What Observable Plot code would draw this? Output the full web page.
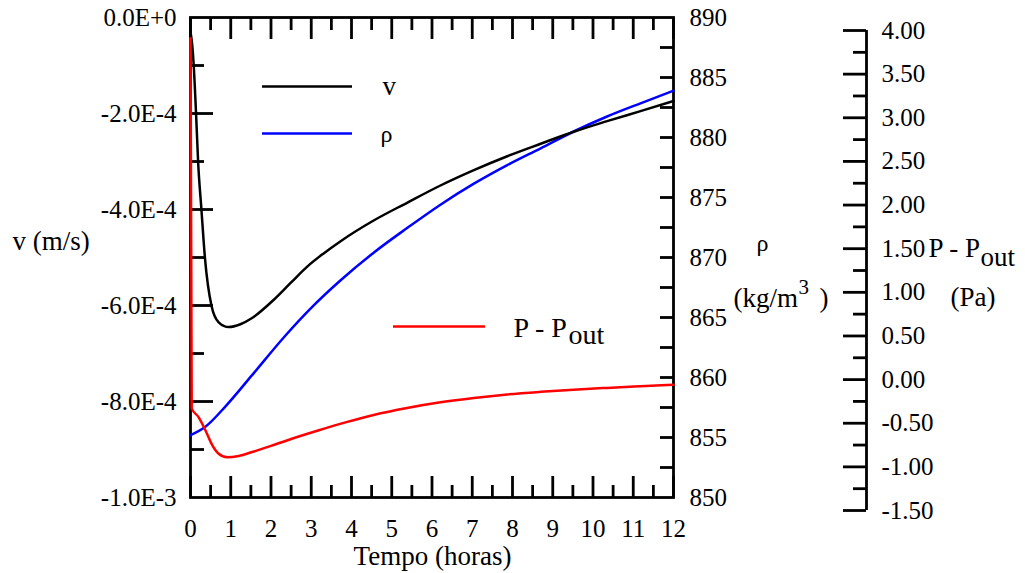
<!DOCTYPE html>
<html><head><meta charset="utf-8">
<script src="https://cdn.jsdelivr.net/npm/d3@7"></script>
<script src="https://cdn.jsdelivr.net/npm/@observablehq/plot@0.6"></script>
<style>body{margin:0;background:#fff} #chart svg{display:block}</style>
</head><body><div id="chart"></div>
<script>
// ---- data ----
// velocity v (units of 1e-4 m/s) vs time (hours)
const tV   = [0, 0.04, 0.08, 0.14, 0.19, 0.27, 0.36, 0.52, 0.70, 0.95, 1.24, 1.53, 2.07, 2.50, 2.90, 3.30, 3.73, 4.55, 5.38, 6.21, 7.04, 7.87, 8.70, 9.52, 10.35, 11.18, 12];
const vE4  = [-0.3, -0.55, -1.0, -2.04, -3.02, -3.98, -5.02, -6.0, -6.35, -6.45, -6.39, -6.26, -5.88, -5.52, -5.19, -4.92, -4.66, -4.23, -3.86, -3.5, -3.18, -2.89, -2.63, -2.38, -2.16, -1.95, -1.74];
// density rho (kg/m3)
const tRho = [0, 0.37, 0.87, 1.53, 2.36, 3.00, 3.73, 4.55, 5.38, 6.21, 7.04, 7.87, 8.70, 9.52, 10.35, 11.18, 12];
const rho  = [855.2, 855.9, 857.6, 860.2, 863.5, 865.8, 868.1, 870.4, 872.45, 874.4, 876.15, 877.7, 879.1, 880.5, 881.75, 882.85, 883.9];
// pressure difference P - Pout (Pa)
const tP   = [0, 0.03, 0.20, 0.37, 0.54, 0.70, 0.91, 1.20, 1.53, 2.00, 2.50, 3.19, 3.85, 4.55, 5.38, 6.21, 7.04, 7.87, 8.70, 9.52, 10.35, 11.18, 12];
const dP   = [3.91, -0.33, -0.43, -0.58, -0.75, -0.85, -0.89, -0.875, -0.83, -0.76, -0.68, -0.58, -0.49, -0.405, -0.325, -0.26, -0.21, -0.17, -0.14, -0.115, -0.095, -0.077, -0.06];

// ---- ticks ----
const xMajor = d3.range(0, 13, 1);
const xMinor = d3.range(0.5, 12, 1);
const vMajorVals = [-1e-3, -8e-4, -6e-4, -4e-4, -2e-4, 0];
const vMajorLabels = ["-1.0E-3", "-8.0E-4", "-6.0E-4", "-4.0E-4", "-2.0E-4", "0.0E+0"];
const vMinorVals = [-9e-4, -7e-4, -5e-4, -3e-4, -1e-4];
const rhoLabels = [850, 855, 860, 865, 870, 875, 880, 885, 890];
const rhoTicks = d3.range(852.5, 890, 2.5);
const pMajor = [-1.5, -1.0, -0.5, 0, 0.5, 1.0, 1.5, 2.0, 2.5, 3.0, 3.5, 4.0];
const pMinor = [-1.25, -0.75, -0.25, 0.25, 0.75, 1.25, 1.75, 2.25, 2.75, 3.25, 3.75];

// ---- secondary axes mapped onto the primary v scale ----
const RHO_MIN = 850, RHO_MAX = 890;
const rhoToV = r => (r - RHO_MAX) / (RHO_MAX - RHO_MIN) * 1e-3;
const P_TOP = 4, P_BOT = -1.5, P_SHIFT = 0.0271e-3;
const pToV = p => -P_SHIFT - (P_TOP - p) / (P_TOP - P_BOT) * 1e-3;

const vData   = tV.map((t, i) => ({t, y: vE4[i] * 1e-4}));
const rhoData = tRho.map((t, i) => ({t, y: rhoToV(rho[i])}));
const pData   = tP.map((t, i) => ({t, y: pToV(dP[i])}));

const FONT = "'Liberation Serif', 'Times New Roman', serif";
const SW = 2.8;
const H = 480, W = 483;
const T = {fontFamily: FONT, fill: "black", lineAnchor: "middle"};
const TICK_FS = 25;

const label = (txt, dx, dy, size, anchor = "start") =>
  Plot.text([txt], {...T, frameAnchor: "top-left", dx, dy, text: d => d, fontSize: size, textAnchor: anchor});

const chart = Plot.plot({
  width: 1025, height: 573,
  marginLeft: 190, marginRight: 352, marginTop: 17, marginBottom: 76,
  x: {domain: [0, 12], axis: null},
  y: {domain: [-1e-3, 0], axis: null},
  style: "font-family: 'Liberation Serif', serif; background: white; overflow: visible;",
  marks: [
    Plot.frame({stroke: "black", strokeWidth: SW}),
    // x ticks top & bottom
    Plot.tickX(xMajor, {x: d => d, insetBottom: H - 22, strokeWidth: SW}),
    Plot.tickX(xMinor, {x: d => d, insetBottom: H - 13, strokeWidth: SW}),
    Plot.tickX(xMajor, {x: d => d, insetTop: H - 21, strokeWidth: SW}),
    Plot.tickX(xMinor, {x: d => d, insetTop: H - 12, strokeWidth: SW}),
    // left v ticks
    Plot.tickY(vMajorVals.slice(1, -1), {y: d => d, insetRight: W - 23, strokeWidth: SW}),
    Plot.tickY(vMinorVals, {y: d => d, insetRight: W - 14, strokeWidth: SW}),
    // right rho ticks
    Plot.tickY(rhoTicks, {y: rhoToV, insetLeft: W - 13, strokeWidth: SW}),
    // third axis (P - Pout)
    Plot.ruleX([12], {x: d => d, y1: pToV(P_TOP), y2: pToV(P_BOT), dx: 193, strokeWidth: SW}),
    Plot.tickY(pMajor, {y: pToV, insetLeft: 653, insetRight: -193, strokeWidth: SW}),
    Plot.tickY(pMinor, {y: pToV, insetLeft: 663, insetRight: -193, strokeWidth: SW}),
    // curves
    Plot.line(rhoData, {x: "t", y: "y", stroke: "#0000ff", strokeWidth: 2.5, curve: "monotone-x"}),
    Plot.line(vData, {x: "t", y: "y", stroke: "black", strokeWidth: 2.5, curve: "monotone-x"}),
    Plot.line(pData, {x: "t", y: "y", stroke: "#ff0000", strokeWidth: 2.5, curve: "monotone-x"}),
    // tick labels
    Plot.text(xMajor, {...T, x: d => d, text: d => String(d), frameAnchor: "bottom", dy: 31, fontSize: TICK_FS}),
    Plot.text(vMajorVals, {...T, y: d => d, text: (d, i) => vMajorLabels[i], frameAnchor: "left", textAnchor: "end", dx: -14, fontSize: TICK_FS}),
    Plot.text(rhoLabels, {...T, y: rhoToV, text: d => String(d), frameAnchor: "right", textAnchor: "start", dx: 16, fontSize: TICK_FS}),
    Plot.text(pMajor, {...T, y: pToV, text: d => d.toFixed(2), frameAnchor: "right", textAnchor: "start", dx: 208, fontSize: TICK_FS}),
    // axis titles
    label("v (m/s)", -178, 224, 27),
    label("Tempo (horas)", 242, 539, 27, "middle"),
    label("ρ", 572, 226, 24, "middle"),
    label("(kg/m", 543, 281, 27),
    label("3", 608, 270, 21),
    label(")", 629, 281, 27),
    label("P - P", 738, 231, 27),
    label("out", 790, 240, 27),
    label("(Pa)", 760, 280, 27),
    // legend
    Plot.ruleY([{y: -1.4375e-4}], {y: "y", x1: 1.789, x2: 4.025, stroke: "black", strokeWidth: 2.5}),
    Plot.ruleY([{y: -2.4167e-4}], {y: "y", x1: 1.789, x2: 4.025, stroke: "#0000ff", strokeWidth: 2.5}),
    Plot.ruleY([{y: -6.4375e-4}], {y: "y", x1: 5.043, x2: 7.329, stroke: "#ff0000", strokeWidth: 2.5}),
    label("v", 192, 69, 27),
    label("ρ", 190, 117, 24),
    label("P - P", 323, 311, 28),
    label("out", 378, 318, 28)
  ]
});
document.getElementById("chart").appendChild(chart);
</script>
</body></html>
